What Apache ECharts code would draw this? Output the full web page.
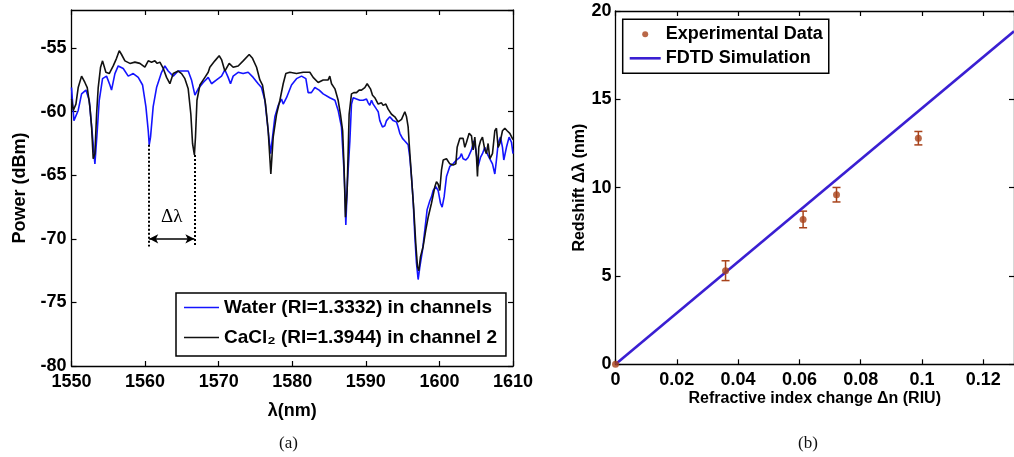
<!DOCTYPE html>
<html>
<head>
<meta charset="utf-8">
<title>Spectrum and redshift</title>
<script src="https://cdn.jsdelivr.net/npm/echarts@6/dist/echarts.min.js"></script>
<style>
html,body{margin:0;padding:0;background:#fff;}
#main{width:1014px;height:457px;}
</style>
</head>
<body>
<div id="main"></div>
<script>
// (a) transmission spectra
var waterWl = [1550.0,1550.33,1550.91,1551.37,1551.96,1552.41,1552.82,1553.18,1553.5,1553.77,
	1554.22,1554.76,1555.22,1555.44,1555.9,1556.35,1557.03,1557.71,1558.39,1559.07,
	1559.66,1560.11,1560.43,1560.56,1560.74,1561.1,1561.56,1562.24,1562.69,1563.14,
	1563.82,1564.5,1565.18,1565.86,1566.31,1566.77,1567.22,1567.9,1568.58,1569.03,
	1569.71,1570.39,1570.84,1571.29,1571.61,1571.97,1572.65,1573.33,1574.01,1574.69,
	1575.37,1575.82,1576.28,1576.73,1577.05,1577.32,1577.64,1578.09,1578.54,1578.77,
	1579.22,1579.9,1580.58,1581.26,1581.85,1582.16,1582.6,1583.07,1583.66,1584.2,
	1585.1,1585.8,1586.24,1586.69,1587.0,1587.15,1587.28,1587.5,1587.83,1588.05,
	1588.28,1588.73,1589.18,1589.64,1590.09,1590.32,1590.54,1590.77,1591.0,1591.45,
	1591.68,1591.9,1592.26,1592.58,1592.81,1593.26,1593.71,1594.17,1594.39,1594.62,
	1594.98,1595.3,1595.75,1595.98,1596.2,1596.43,1596.66,1596.88,1597.11,1597.34,
	1597.7,1598.02,1598.33,1598.7,1598.92,1599.15,1599.51,1599.83,1600.15,1600.37,
	1600.64,1600.96,1601.41,1601.86,1602.32,1602.77,1603.0,1603.22,1603.59,1603.9,
	1604.36,1604.67,1604.95,1605.26,1605.58,1605.85,1606.17,1606.49,1606.85,1607.21,
	1607.53,1607.75,1607.98,1608.3,1608.57,1608.75,1609.11,1609.47,1609.79,1610.0];
var waterPow = [-58.1,-60.7,-59.9,-58.6,-58.3,-59.1,-61.7,-64.1,-61.5,-59.1,
	-57.4,-57.2,-57.9,-58.3,-57.0,-56.4,-56.6,-57.2,-57.0,-57.3,
	-57.9,-59.6,-61.5,-62.6,-62.0,-59.6,-58.1,-56.9,-56.4,-56.8,
	-57.2,-56.8,-56.8,-56.8,-57.5,-58.7,-58.2,-57.7,-57.3,-57.8,
	-57.5,-57.2,-56.7,-57.3,-57.8,-57.2,-56.9,-57.0,-56.9,-57.3,
	-57.8,-58.1,-59.1,-61.5,-63.3,-62.0,-60.4,-59.5,-59.0,-59.4,
	-58.9,-57.9,-57.4,-57.2,-57.4,-58.5,-58.5,-58.1,-58.3,-58.6,
	-58.9,-59.1,-59.9,-61.2,-64.3,-66.2,-68.9,-65.5,-62.3,-59.4,
	-58.9,-59.0,-59.1,-59.1,-59.0,-59.3,-59.5,-59.1,-59.4,-59.8,
	-60.0,-60.7,-61.2,-61.1,-60.7,-60.4,-60.7,-60.8,-61.2,-61.7,
	-62.1,-62.3,-62.6,-63.6,-65.1,-67.0,-69.8,-71.9,-73.2,-72.2,
	-70.9,-69.3,-67.7,-67.0,-66.7,-66.2,-65.9,-66.2,-67.2,-67.5,
	-66.7,-65.1,-64.3,-64.1,-63.8,-63.6,-63.3,-63.7,-63.8,-63.6,
	-63.0,-62.3,-63.0,-64.3,-63.6,-63.3,-62.8,-63.3,-63.7,-64.1,
	-64.9,-63.8,-62.5,-62.0,-62.8,-63.8,-62.8,-62.0,-62.4,-63.3];
var cacl2Wl = [1550.01,1550.24,1550.6,1550.91,1551.37,1551.82,1552.14,1552.5,1552.73,1552.95,
	1553.18,1553.41,1553.63,1553.95,1554.22,1554.67,1555.13,1555.67,1556.12,1556.49,
	1556.8,1557.26,1557.94,1558.61,1559.29,1559.97,1560.43,1560.88,1561.33,1561.65,
	1562.01,1562.47,1562.92,1563.37,1563.82,1564.5,1564.96,1565.41,1565.86,1566.22,
	1566.45,1566.7,1566.85,1567.05,1567.45,1568.13,1568.58,1568.8,1569.48,1570.07,
	1570.39,1570.84,1571.43,1571.97,1572.65,1573.33,1574.15,1574.6,1575.15,1575.6,
	1575.96,1576.37,1576.73,1577.09,1577.41,1577.87,1578.32,1578.77,1579.13,1579.67,
	1580.58,1581.49,1582.39,1582.84,1583.52,1584.2,1584.88,1585.1,1585.34,1585.8,
	1586.24,1586.55,1586.85,1587.05,1587.23,1587.46,1587.73,1588.05,1588.37,1588.73,
	1589.09,1589.41,1589.86,1590.18,1590.45,1590.63,1590.91,1591.22,1591.68,1592.13,
	1592.35,1592.72,1593.03,1593.49,1593.94,1594.39,1594.85,1595.3,1595.53,1595.75,
	1595.89,1596.2,1596.52,1596.79,1597.02,1597.2,1597.43,1597.79,1598.15,1598.47,
	1598.92,1599.38,1599.6,1599.83,1600.05,1600.28,1600.51,1600.96,1601.41,1601.64,
	1601.86,1602.23,1602.41,1602.77,1603.22,1603.45,1603.68,1604.04,1604.36,1604.58,
	1604.81,1605.04,1605.17,1605.35,1605.58,1605.85,1606.17,1606.39,1606.62,1606.85,
	1607.21,1607.53,1607.75,1607.98,1608.21,1608.57,1608.89,1609.2,1609.57,1610.0];
var cacl2Pow = [-59.0,-59.9,-59.4,-58.1,-57.2,-57.7,-58.1,-59.6,-61.2,-63.7,
	-63.3,-60.2,-58.1,-56.5,-56.0,-56.9,-57.0,-56.4,-55.8,-55.2,
	-55.5,-56.0,-56.2,-56.1,-56.2,-56.5,-56.0,-56.1,-56.0,-56.2,
	-56.1,-56.6,-57.3,-57.8,-57.0,-56.8,-57.0,-57.4,-58.2,-60.2,
	-62.5,-63.4,-62.0,-59.1,-57.9,-57.3,-56.9,-56.5,-56.0,-55.6,
	-55.9,-56.8,-56.2,-56.5,-56.4,-56.0,-55.5,-55.8,-56.5,-57.5,
	-57.9,-59.4,-61.5,-64.9,-62.0,-60.2,-59.1,-57.8,-57.0,-56.9,
	-57.0,-56.9,-56.9,-57.3,-57.7,-57.5,-57.5,-57.2,-57.8,-58.2,
	-59.1,-60.2,-61.5,-64.5,-68.3,-66.2,-60.2,-58.6,-58.5,-58.5,
	-58.3,-58.3,-58.1,-57.8,-57.9,-58.2,-58.7,-58.9,-59.4,-59.3,
	-59.5,-59.4,-59.8,-60.2,-60.4,-60.8,-60.6,-60.0,-60.4,-61.2,
	-62.5,-65.1,-67.7,-70.4,-72.2,-72.5,-71.4,-70.6,-69.3,-68.3,
	-67.2,-65.9,-65.5,-65.7,-66.2,-64.6,-63.8,-63.7,-64.1,-64.1,
	-64.2,-64.1,-62.8,-62.1,-62.1,-62.8,-62.4,-61.7,-61.9,-63.0,
	-62.0,-63.6,-65.1,-62.8,-62.3,-62.0,-63.0,-63.3,-62.5,-63.7,
	-63.3,-61.5,-61.3,-62.8,-62.5,-61.5,-61.3,-61.5,-61.7,-62.2];

// delta lambda marker: the two dips, the arrow level and where the dots stop
var shiftDipWl = [1560.56, 1566.7];
var shiftDipPow = [-62.6, -63.4];
var shiftArrowPow = -70;
var shiftLineEnd = -70.6;

// (b) redshift vs refractive index change
var expDn = [0, 0.0359, 0.0612, 0.0721, 0.0988];
var expShift = [0, 5.3, 8.2, 9.6, 12.8];
var expErr = [0, 0.56, 0.47, 0.41, 0.38];
var fdtdDn = [0, 0.13];
var fdtdShift = [0, 18.85];

var FONT = '"Liberation Sans", Arial, sans-serif';
var BLACK = '#000';
var WATER_NAME = 'Water (RI=1.3332) in channels';
var CACL2_NAME = 'CaCl₂ (RI=1.3944) in channel 2';

function pairs(xs, ys) {
	var out = [];
	for (var i = 0; i < xs.length; i++) {
		out.push([xs[i], ys[i]]);
	}
	return out;
}

// MATLAB style box: inside ticks on all four sides
function boxAxis(gridIndex, pos, min, max, interval, labels) {
	return {
		type: 'value',
		gridIndex: gridIndex,
		position: pos,
		min: min,
		max: max,
		interval: interval,
		nameMoveOverlap: false,
		axisLine: {show: true, onZero: false, lineStyle: {color: BLACK, width: 1.3}},
		axisTick: {show: true, inside: true, length: 5, lineStyle: {color: BLACK, width: 1.2}},
		splitLine: {show: false},
		axisLabel: {
			show: labels,
			showMaxLabel: false,
			color: BLACK,
			fontFamily: FONT,
			fontWeight: 'bold',
			fontSize: 18,
			formatter: function (v) { return String(+v.toFixed(4)); }
		}
	};
}

function titleStyle(size) {
	return {color: BLACK, fontFamily: FONT, fontWeight: 'bold', fontSize: size};
}

var xLeft = boxAxis(0, 'bottom', 1550, 1610, 10, true);
xLeft.axisLabel.showMaxLabel = true;
xLeft.axisLabel.margin = 7;
xLeft.name = 'λ(nm)';
xLeft.nameLocation = 'middle';
xLeft.nameGap = 36;
xLeft.nameTextStyle = titleStyle(18);

var yLeft = boxAxis(0, 'left', -80, -52, 5, true);
yLeft.axisLabel.margin = 5;
yLeft.name = 'Power (dBm)';
yLeft.nameLocation = 'middle';
yLeft.nameGap = 42;
yLeft.nameTextStyle = titleStyle(18);

var xRight = boxAxis(1, 'bottom', 0, 0.13, 0.02, true);
xRight.axisLabel.margin = 7;
xRight.name = 'Refractive index change Δn (RIU)';
xRight.nameLocation = 'middle';
xRight.nameGap = 26;
xRight.nameTextStyle = titleStyle(16);

var yRight = boxAxis(1, 'left', 0, 20, 5, true);
yRight.axisLabel.showMaxLabel = true;
yRight.axisLabel.margin = 4;
yRight.name = 'Redshift Δλ (nm)';
yRight.nameLocation = 'middle';
yRight.nameGap = 28;
yRight.nameTextStyle = titleStyle(16);

var chart = echarts.init(document.getElementById('main'), null, {renderer: 'canvas'});

var option = {
	backgroundColor: '#fff',
	animation: false,
	grid: [
		{left: 71.5, top: 10, width: 441.5, height: 356},
		{left: 615.5, top: 11, width: 402.3, height: 353.3}
	],
	xAxis: [
		xLeft,
		boxAxis(0, 'top', 1550, 1610, 10, false),
		xRight,
		boxAxis(1, 'top', 0, 0.13, 0.02, false)
	],
	yAxis: [
		yLeft,
		boxAxis(0, 'right', -80, -52, 5, false),
		yRight,
		boxAxis(1, 'right', 0, 20, 5, false)
	],
	legend: [
		{
			orient: 'vertical',
			left: 176,
			top: 293,
			data: [
				{name: WATER_NAME, icon: 'path://M0,0 L35,0 L35,1.6 L0,1.6 Z'},
				{name: CACL2_NAME, icon: 'path://M0,0 L35,0 L35,1.6 L0,1.6 Z'}
			],
			itemWidth: 35,
			itemHeight: 14,
			itemGap: 11,
			padding: [5, 9, 9, 8],
			borderColor: BLACK,
			borderWidth: 1.5,
			borderRadius: 0,
			textStyle: {color: BLACK, fontFamily: FONT, fontWeight: 'bold', fontSize: 19}
		},
		{
			orient: 'vertical',
			left: 622.7,
			top: 19.3,
			data: [
				{name: 'Experimental Data', icon: 'circle'},
				{name: 'FDTD Simulation', icon: 'path://M0,0 L31,0 L31,2.6 L0,2.6 Z'}
			],
			itemWidth: 31,
			itemHeight: 6,
			itemGap: 6,
			padding: [6, 6, 6, 7],
			borderColor: BLACK,
			borderWidth: 1.5,
			borderRadius: 0,
			textStyle: {color: BLACK, fontFamily: FONT, fontWeight: 'bold', fontSize: 18}
		}
	],
	series: [
		{
			name: WATER_NAME,
			type: 'line',
			xAxisIndex: 0,
			yAxisIndex: 0,
			data: pairs(waterWl, waterPow),
			symbol: 'none',
			color: '#1414ff',
			lineStyle: {width: 1.6, color: '#1414ff'},
			markLine: {
				silent: true,
				symbol: ['none', 'none'],
				lineStyle: {color: BLACK, type: 'dotted', width: 2},
				label: {show: false},
				data: [
					[{coord: [shiftDipWl[0], shiftDipPow[0]]}, {coord: [shiftDipWl[0], shiftLineEnd]}],
					[{coord: [shiftDipWl[1], shiftDipPow[1]]}, {coord: [shiftDipWl[1], shiftLineEnd]}],
					[
						{
							coord: [shiftDipWl[0], shiftArrowPow],
							symbol: 'arrow',
							symbolSize: [7, 9],
							lineStyle: {type: 'solid', width: 1.5, color: BLACK},
							label: {
								show: true,
								position: 'middle',
								formatter: 'Δλ',
								distance: 12,
								color: BLACK,
								fontFamily: '"Liberation Serif", "Times New Roman", serif',
								fontSize: 19
							}
						},
						{coord: [shiftDipWl[1], shiftArrowPow], symbol: 'arrow', symbolSize: [7, 9]}
					]
				]
			}
		},
		{
			name: CACL2_NAME,
			type: 'line',
			xAxisIndex: 0,
			yAxisIndex: 0,
			data: pairs(cacl2Wl, cacl2Pow),
			symbol: 'none',
			color: '#111',
			lineStyle: {width: 1.6, color: '#111'}
		},
		{
			name: 'FDTD Simulation',
			type: 'line',
			xAxisIndex: 2,
			yAxisIndex: 2,
			data: pairs(fdtdDn, fdtdShift),
			symbol: 'none',
			color: '#3a1fd2',
			lineStyle: {width: 2.6, color: '#3a1fd2'}
		},
		{
			name: 'Experimental error',
			type: 'custom',
			xAxisIndex: 2,
			yAxisIndex: 2,
			data: expDn.map(function (d, i) { return [d, expShift[i], expErr[i]]; }),
			encode: {x: 0, y: 1},
			renderItem: function (params, api) {
				var x = api.value(0), y = api.value(1), e = api.value(2);
				if (!e) return null;
				var top = api.coord([x, y + e]);
				var bot = api.coord([x, y - e]);
				var hw = 4;
				var st = {stroke: '#a8421a', lineWidth: 1.5};
				return {
					type: 'group',
					children: [
						{type: 'line', shape: {x1: top[0], y1: top[1], x2: bot[0], y2: bot[1]}, style: st},
						{type: 'line', shape: {x1: top[0] - hw, y1: top[1], x2: top[0] + hw, y2: top[1]}, style: st},
						{type: 'line', shape: {x1: bot[0] - hw, y1: bot[1], x2: bot[0] + hw, y2: bot[1]}, style: st}
					]
				};
			},
			z: 3
		},
		{
			name: 'Experimental Data',
			type: 'scatter',
			xAxisIndex: 2,
			yAxisIndex: 2,
			data: pairs(expDn, expShift),
			symbol: 'circle',
			symbolSize: 7,
			color: '#a8421a',
			z: 4
		}
	],
	graphic: [
		{type: 'text', left: 279, top: 435, style: {text: '(a)', font: '17px "Liberation Serif", serif', fill: '#111'}},
		{type: 'text', left: 798, top: 435, style: {text: '(b)', font: '17px "Liberation Serif", serif', fill: '#111'}}
	]
};

chart.setOption(option);
</script>
</body>
</html>
